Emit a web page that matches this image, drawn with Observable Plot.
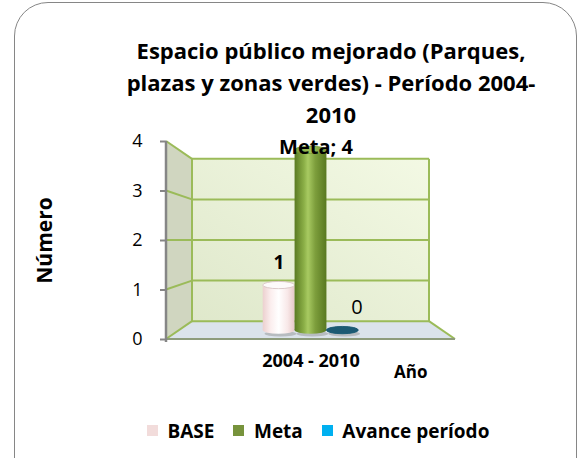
<!DOCTYPE html>
<html><head><meta charset="utf-8">
<script src="https://cdn.jsdelivr.net/npm/d3@7"></script>
<script src="https://cdn.jsdelivr.net/npm/@observablehq/plot@0.6"></script>
<style>
html,body{margin:0;padding:0;background:#fff;}
#wrap{position:relative;width:581px;height:458px;overflow:hidden;font-family:"Open Sans",sans-serif;}
#frame{position:absolute;left:14px;top:2px;width:563px;height:500px;border:1.5px solid #868686;border-radius:34px;box-sizing:border-box;}
#chart{position:absolute;left:0;top:0;}
#legend{position:absolute;left:147px;top:414px;}
g[aria-label="y-axis tick"] path, g[aria-label="y-axis"] line {stroke:#868686;stroke-width:2px;}
</style></head>
<body><div id="wrap"><div id="frame"></div><div id="chart"></div><div id="legend"></div></div>
<script>
const categories = ["2004 - 2010"];
const series = ["BASE", "Meta", "Avance período"];
const values = [1, 4, 0];
const seriesColors = ["#f2dcdb", "#77933c", "#00b0f0"];
const yTicks = [0, 1, 2, 3, 4];
const titleLines = ["Espacio público mejorado (Parques,", "plazas y zonas verdes) - Período 2004-", "2010"];
const yLabel = "Número";
const xLabel = "Año";

const data = series.map((s, i) => ({serie: s, value: values[i], category: categories[0]}));
const FONT = "'Open Sans', sans-serif";
const K = 0.82;   // back wall depth factor
const KM = 0.91;  // bar depth factor

function walls(index, scales, values, dim) {
  const y = scales.y;
  const L = dim.marginLeft, R = dim.width - dim.marginRight;
  const T = dim.marginTop, B = dim.height - dim.marginBottom;
  const cx = (L + R) / 2, cy = (T + B) / 2;
  const bx = x => cx + (x - cx) * K, by = v => cy + (y(v) - cy) * K;
  const g = d3.create("svg:g");
  const defs = g.append("defs");
  const grad = (id, stops, x2 = "100%", y1 = "0%", y2 = "0%") => {
    const lg = defs.append("linearGradient").attr("id", id).attr("x1", "0%").attr("x2", x2).attr("y1", y1).attr("y2", y2);
    stops.forEach(([o, c]) => lg.append("stop").attr("offset", o).attr("stop-color", c));
  };
  grad("gWall", [["0%", "#dfe8cb"], ["100%", "#f3f9e4"]], "100%", "100%", "0%");
  grad("gBase", [["0%", "#ecd0cf"], ["25%", "#fbeeee"], ["50%", "#ffffff"], ["78%", "#f8e8e8"], ["100%", "#e6c8c7"]]);
  grad("gMeta", [["0%", "#5a7a22"], ["30%", "#8cb048"], ["42%", "#a8ca62"], ["65%", "#7d9e3c"], ["100%", "#587820"]]);
  grad("gMetaCap", [["0%", "#7fa23c"], ["50%", "#9dc156"], ["100%", "#7a9a38"]]);
  grad("gAv", [["0%", "#1d5870"], ["50%", "#2a7a96"], ["100%", "#1d5870"]]);
  const top = d3.max(yTicks), bot = d3.min(yTicks);
  const bL = bx(L), bR = bx(R);
  g.append("rect").attr("x", bL).attr("y", by(top)).attr("width", bR - bL).attr("height", by(bot) - by(top)).attr("fill", "url(#gWall)");
  g.append("path").attr("d", `M${L},${y(top)}L${bL},${by(top)}L${bL},${by(bot)}L${L},${y(bot)}Z`).attr("fill", "#d0d6c0");
  g.append("path").attr("d", `M${L},${y(bot)}L${bL},${by(bot)}L${bR},${by(bot)}L${R},${y(bot)}Z`).attr("fill", "#dbe3eb");
  const gs = "#9bbb59";
  for (const v of yTicks) {
    g.append("line").attr("x1", bL).attr("x2", bR).attr("y1", by(v)).attr("y2", by(v)).attr("stroke", gs).attr("stroke-width", 2);
    g.append("line").attr("x1", L).attr("x2", bL).attr("y1", y(v)).attr("y2", by(v)).attr("stroke", gs).attr("stroke-width", 2);
  }
  g.append("line").attr("x1", bL).attr("x2", bL).attr("y1", by(top)).attr("y2", by(bot)).attr("stroke", gs).attr("stroke-width", 2);
  g.append("line").attr("x1", bR).attr("x2", bR).attr("y1", by(top)).attr("y2", by(bot)).attr("stroke", gs).attr("stroke-width", 2);
  g.append("line").attr("x1", bR).attr("x2", R).attr("y1", by(bot)).attr("y2", y(bot)).attr("stroke", gs).attr("stroke-width", 2);
  g.append("line").attr("x1", L).attr("x2", R).attr("y1", y(bot)).attr("y2", y(bot)).attr("stroke", "#8e9c7c").attr("stroke-width", 2);
  g.append("line").attr("x1", L).attr("x2", L).attr("y1", y(top)).attr("y2", y(bot) + 3).attr("stroke", "#868686").attr("stroke-width", 2.5);
  return g.node();
}

const fills = {"BASE": "url(#gBase)", "Meta": "url(#gMeta)", "Avance período": "url(#gAv)"};
const capFills = {"BASE": "#fdfafa", "Meta": "url(#gMetaCap)", "Avance período": "#1c5a73"};
const capStroke = {"BASE": "#d8c4c4", "Meta": "#7a9a38", "Avance período": "#1c5a73"};

const barMarks = [];
barMarks.push(Plot.barY(data, {x: "serie", y1: d => 0, y2: d => 0, insetTop: -3, insetBottom: -3, rx: 100, ry: 3, dy: 4, dx: 2, fill: "#8c8c8c", fillOpacity: 0.45}));
for (const s of series) {
  const f = d => d.serie === s;
  barMarks.push(Plot.barY(data, {filter: f, x: "serie", y1: d => 0, y2: d => 0, insetTop: -4, insetBottom: -4, rx: 100, ry: 4, fill: s === "Avance período" ? "#4f8ea6" : fills[s]}));
  barMarks.push(Plot.barY(data, {filter: f, x: "serie", y: "value", fill: fills[s]}));
  barMarks.push(Plot.barY(data, {filter: f, x: "serie", y1: "value", y2: "value", insetTop: -4, insetBottom: -4, rx: 100, ry: 4, fill: capFills[s], stroke: capStroke[s], strokeWidth: 1}));
}

const chart = Plot.plot({
  width: 581, height: 458,
  marginLeft: 166, marginRight: 126, marginTop: 141, marginBottom: 119,
  style: {fontFamily: FONT, fontSize: "18px", color: "#000", background: "transparent", overflow: "visible"},
  x: {domain: series, axis: null, paddingInner: 0, paddingOuter: 2.57},
  y: {domain: [0, 4], ticks: yTicks, tickSize: 6, tickPadding: 18, tickFormat: d3.format("d"), label: null},
  marks: [
    walls,
    ...barMarks,
    Plot.text(data, {filter: d => d.serie === "BASE", x: "serie", y: "value", text: d => `${d.value}`, fontWeight: "bold", fontSize: 19, dx: 3, dy: -27}),
    Plot.text(data, {filter: d => d.serie === "Meta", x: "serie", y: "value", text: d => `${d.serie}; ${d.value}`, fontWeight: "bold", fontSize: 20, dx: 5, dy: 6}),
    Plot.text(data, {filter: d => d.serie === "Avance período", x: "serie", y: "value", text: d => `${d.value}`, fontSize: 20, dx: 11, dy: -32}),
    Plot.text([titleLines.join("\n")], {text: d => d, frameAnchor: "top", lineAnchor: "top", dx: 20, dy: -104.6, fontWeight: "bold", fontSize: 22, lineHeight: 1.44}),
    Plot.text(categories, {text: d => d, frameAnchor: "bottom", dx: 0, dy: 27, fontWeight: "bold", fontSize: 18}),
    Plot.text([xLabel], {text: d => d, frameAnchor: "bottom-right", textAnchor: "end", dx: -28, dy: 38, fontWeight: "bold", fontSize: 17}),
    Plot.text([yLabel], {text: d => d, frameAnchor: "left", textAnchor: "middle", rotate: -90, dx: -121, fontWeight: "bold", fontSize: 21})
  ]
});

{
  const L = 166, R = 581 - 126, T = 141, B = 458 - 119;
  const cx = (L + R) / 2, cy = (T + B) / 2;
  d3.select(chart).selectAll('g[aria-label="bar"]').each(function() {
    const prev = this.getAttribute("transform") || "";
    this.setAttribute("transform", `translate(${cx},${cy}) scale(${KM}) translate(${-cx},${-cy}) ${prev}`);
  });
}
document.getElementById("chart").append(chart);

const legend = Plot.legend({
  color: {type: "ordinal", domain: series, range: seriesColors},
  swatchSize: 11,
  style: {fontFamily: FONT, fontSize: "19px", fontWeight: "bold", color: "#000", background: "transparent"}
});
document.getElementById("legend").append(legend);
</script>
</body></html>
